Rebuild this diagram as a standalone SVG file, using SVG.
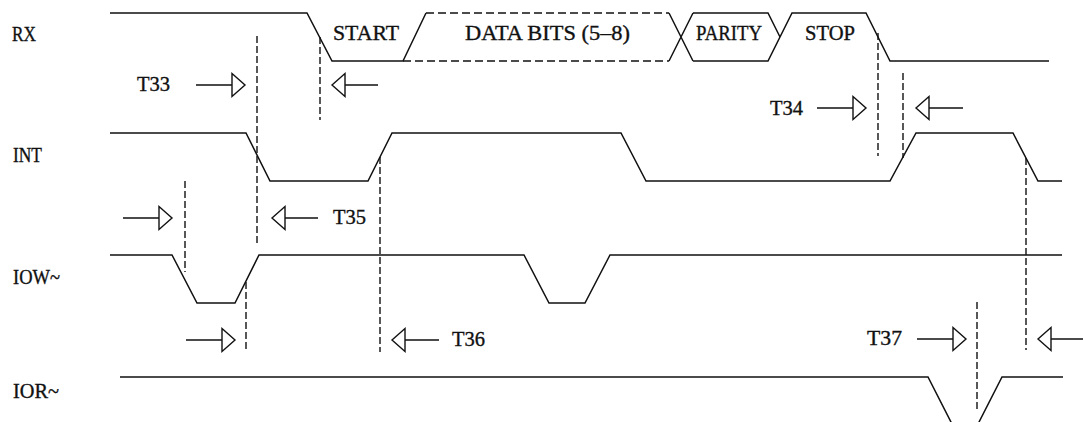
<svg xmlns="http://www.w3.org/2000/svg" xmlns:xlink="http://www.w3.org/1999/xlink" width="1083" height="422" viewBox="0 0 1083 422">
<style>
.w{fill:none;stroke:#111;stroke-width:1.5;stroke-linejoin:miter}
.dl{fill:none;stroke:#111;stroke-width:1.5;stroke-dasharray:8 4}
.dv{fill:none;stroke:#111;stroke-width:1.4;stroke-dasharray:7 3}
.ln{fill:none;stroke:#111;stroke-width:1.4}
.tri{fill:#fff;stroke:#111;stroke-width:1.4;stroke-linejoin:miter}
text{font-family:"Liberation Serif","Times New Roman",serif;font-size:21px;fill:#111;stroke:#111;stroke-width:0.35}
</style>
<defs>
<path id="arrR" class="tri" d="M0,-11.5 L13,0 L0,11.5 Z"/>
<path id="arrL" class="tri" d="M0,0 L13,-11.5 L13,11.5 Z"/>
</defs>
<rect width="1083" height="422" fill="#fff"/>

<g id="rx">
<text x="12" y="41" textLength="24" lengthAdjust="spacingAndGlyphs">RX</text>
<path class="w" d="M110,13 H307 L332,61 H403 L426,13"/>
<path class="dl" d="M426,13 H669 M403,61 H669"/>
<path class="w" d="M669,13 L693,61 M669,61 L693,13 M693,13 H768 L780,37 M693,61 H768 L792,13 H866 L890,61 H1049"/>
<text x="333" y="40" textLength="66" lengthAdjust="spacingAndGlyphs">START</text>
<text x="465" y="40" textLength="165" lengthAdjust="spacingAndGlyphs">DATA BITS (5–8)</text>
<text x="696" y="40" textLength="66" lengthAdjust="spacingAndGlyphs">PARITY</text>
<text x="805" y="40" textLength="50" lengthAdjust="spacingAndGlyphs">STOP</text>
</g>

<g id="int">
<text x="13" y="162" textLength="29" lengthAdjust="spacingAndGlyphs">INT</text>
<path class="w" d="M110,133 H246 L270,181 H368 L392,133 H621 L646,181 H890 L916,133 H1013 L1038,181 H1062"/>
</g>

<g id="iow">
<text x="13" y="284" textLength="47" lengthAdjust="spacingAndGlyphs">IOW~</text>
<path class="w" d="M110,255 H172 L197,303 H235 L259,255 H524 L549,303 H585 L610,255 H1062"/>
</g>

<g id="ior">
<text x="13" y="398" textLength="46" lengthAdjust="spacingAndGlyphs">IOR~</text>
<path class="w" d="M120,377 H928 L953,426 H977 L1002,377 H1063"/>
</g>

<g id="connectors">
<g id="t33">
<path class="dv" d="M257,36 V243 M320,37 V120"/>
<path class="ln" d="M196,85 H232 M345,85 H378"/>
<use xlink:href="#arrR" x="232" y="85"/>
<use xlink:href="#arrL" x="332" y="85"/>
<text x="137" y="91" textLength="33" lengthAdjust="spacingAndGlyphs">T33</text>
</g>
<g id="t34">
<path class="dv" d="M878,33 V156 M903,73 V158"/>
<path class="ln" d="M817,108 H853 M929,108 H963"/>
<use xlink:href="#arrR" x="853" y="108"/>
<use xlink:href="#arrL" x="916" y="108"/>
<text x="770" y="115" textLength="33" lengthAdjust="spacingAndGlyphs">T34</text>
</g>
<g id="t35">
<path class="dv" d="M185,181 V272"/>
<path class="ln" d="M123,218 H159 M285,218 H318"/>
<use xlink:href="#arrR" x="159" y="218"/>
<use xlink:href="#arrL" x="272" y="218"/>
<text x="333" y="224" textLength="33" lengthAdjust="spacingAndGlyphs">T35</text>
</g>
<g id="t36">
<path class="dv" d="M246,282 V352 M380,157 V352"/>
<path class="ln" d="M186,340 H222 M405,340 H439"/>
<use xlink:href="#arrR" x="222" y="340"/>
<use xlink:href="#arrL" x="392" y="340"/>
<text x="452" y="346" textLength="33" lengthAdjust="spacingAndGlyphs">T36</text>
</g>
<g id="t37">
<path class="dv" d="M977,302 V412 M1026,158 V350"/>
<path class="ln" d="M917,339 H953 M1051,339 H1083"/>
<use xlink:href="#arrR" x="953" y="339"/>
<use xlink:href="#arrL" x="1038" y="339"/>
<text x="867" y="345" textLength="35" lengthAdjust="spacingAndGlyphs">T37</text>
</g>
</g>
</svg>
